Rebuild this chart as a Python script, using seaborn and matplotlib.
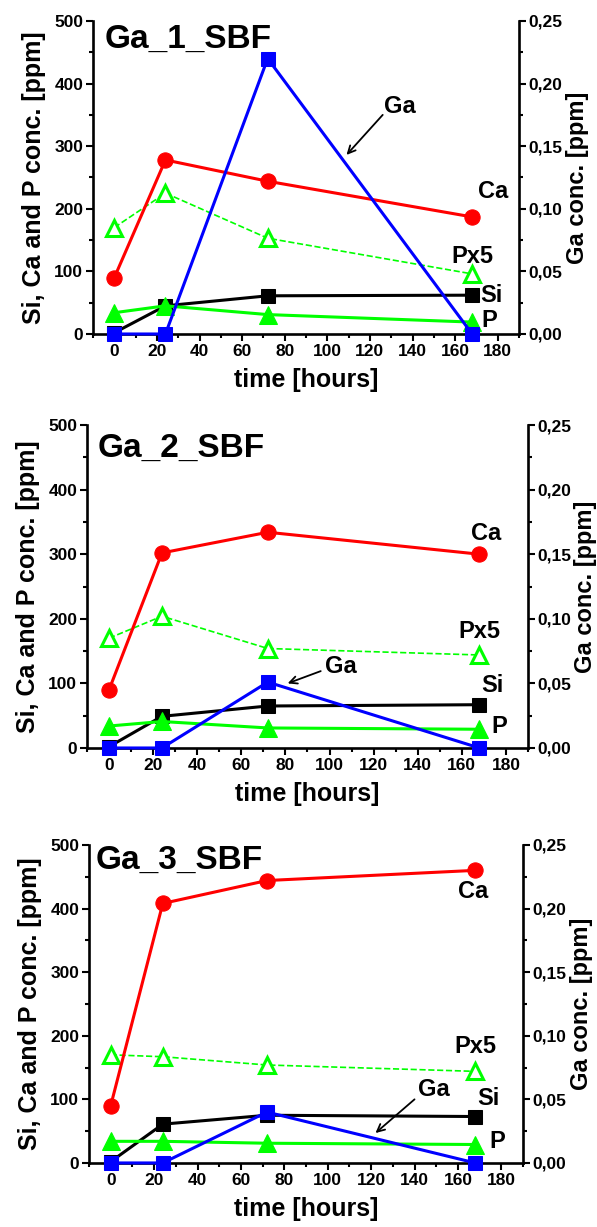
import matplotlib
matplotlib.use("Agg")
import matplotlib.pyplot as plt
from matplotlib.ticker import MultipleLocator, FuncFormatter
import seaborn as sns

# sampling times (hours)
hours = [0, 24, 72, 168]

# Ga_1_SBF
s1_ca = [90, 278, 244, 187]
s1_px5 = [170, 225, 153, 96]
s1_p = [34, 45, 31, 19]
s1_si = [2, 45, 61, 62]
s1_ga = [0.0, 0.0, 0.22, 0.0]

# Ga_2_SBF
s2_ca = [90, 302, 334, 300]
s2_px5 = [170, 204, 154, 144]
s2_p = [34, 41, 31, 29]
s2_si = [2, 49, 65, 67]
s2_ga = [0.0, 0.0, 0.051, 0.0]

# Ga_3_SBF
s3_ca = [90, 408, 444, 460]
s3_px5 = [170, 167, 154, 144]
s3_p = [34, 34, 31, 29]
s3_si = [2, 61, 75, 73]
s3_ga = [0.0, 0.0, 0.04, 0.0]

sample_names = ["Ga_1_SBF", "Ga_2_SBF", "Ga_3_SBF"]
x_ticks = [0, 20, 40, 60, 80, 100, 120, 140, 160, 180]
left_ticks = [0, 100, 200, 300, 400, 500]
right_ticks = [0.0, 0.05, 0.10, 0.15, 0.20, 0.25]

RED = "#ff0000"
GREEN = "#00ff00"
BLUE = "#0000ff"
BLACK = "#000000"

sns.set_theme(style="ticks")
plt.rcParams["font.family"] = ["Liberation Sans", "DejaVu Sans"]
plt.rcParams.update({
    "font.weight": "bold",
    "axes.labelweight": "bold",
    "axes.edgecolor": "black",
    "axes.labelcolor": "black",
    "text.color": "black",
    "xtick.color": "black",
    "ytick.color": "black",
    "axes.linewidth": 1.9,
})

# panel layout: axes boxes in figure fractions and label placements (data coords)
layout = [
    dict(box=(0.1558, 0.7278, 0.7136, 0.2551), title=(-4.4, 457),
         ca=(178, 227), px5=(168, 123), si=(177, 62), p=(176, 22),
         ga_text=(134, 363), ga_tail=(126, 350), ga_head=(109, 286)),
    dict(box=(0.1457, 0.3904, 0.7387, 0.2632), title=(-5.0, 451),
         ca=(171, 332), px5=(168, 180), si=(174, 97), p=(177, 33),
         ga_text=(105, 126), ga_tail=(96, 119), ga_head=(81, 100)),
    dict(box=(0.1491, 0.0522, 0.7270, 0.2592), title=(-6.8, 462),
         ca=(167, 427), px5=(168, 183), si=(174, 102), p=(178, 33),
         ga_text=(149, 116), ga_tail=(140, 100), ga_head=(122, 47)),
]

panels = [
    (s1_ca, s1_px5, s1_p, s1_si, s1_ga),
    (s2_ca, s2_px5, s2_p, s2_si, s2_ga),
    (s3_ca, s3_px5, s3_p, s3_si, s3_ga),
]

fig = plt.figure(figsize=(5.97, 12.27), dpi=100)

comma_fmt = FuncFormatter(lambda v, pos: f"{v:.2f}".replace(".", ","))

for name, (ca, px5, p, si, ga), lay in zip(sample_names, panels, layout):
    ax = fig.add_axes(lay["box"])
    ax2 = ax.twinx()

    sns.lineplot(x=hours, y=px5, ax=ax, color=GREEN, linewidth=1.2,
                 linestyle="--", marker="^", markersize=12,
                 markerfacecolor="white", markeredgecolor=GREEN,
                 markeredgewidth=2.2, clip_on=False)
    sns.lineplot(x=hours, y=si, ax=ax, color=BLACK, linewidth=2.2,
                 marker="s", markersize=10, markeredgecolor=BLACK,
                 markerfacecolor=BLACK, clip_on=False)
    sns.lineplot(x=hours, y=p, ax=ax, color=GREEN, linewidth=2.2,
                 marker="^", markersize=13, markeredgecolor=GREEN,
                 markerfacecolor=GREEN, clip_on=False)
    sns.lineplot(x=hours, y=ca, ax=ax, color=RED, linewidth=2.2,
                 marker="o", markersize=11, markeredgecolor=RED,
                 markerfacecolor=RED, clip_on=False)
    sns.lineplot(x=hours, y=ga, ax=ax2, color=BLUE, linewidth=2.2,
                 marker="s", markersize=10, markeredgecolor=BLUE,
                 markerfacecolor=BLUE, clip_on=False)

    ax.set_xlim(-10, 190)
    ax.set_ylim(0, 500)
    ax2.set_ylim(0, 0.25)

    ax.set_xticks(x_ticks)
    ax.xaxis.set_minor_locator(MultipleLocator(10))
    ax.set_yticks(left_ticks)
    ax.yaxis.set_minor_locator(MultipleLocator(50))
    ax2.set_yticks(right_ticks)
    ax2.yaxis.set_minor_locator(MultipleLocator(0.025))
    ax2.yaxis.set_major_formatter(comma_fmt)

    for a in (ax, ax2):
        a.spines["top"].set_visible(False)
        a.tick_params(which="major", direction="out", length=5, width=1.5,
                      labelsize=12.5, pad=2)
        a.tick_params(which="minor", direction="out", length=3.2, width=1.5)
    ax2.spines["left"].set_visible(False)
    ax2.spines["bottom"].set_visible(False)
    ax.spines["right"].set_visible(False)
    ax.tick_params(axis="y", which="both", right=False)

    ax.set_xlabel("time [hours]", fontsize=18, labelpad=7)
    ax.set_ylabel("Si, Ca and P conc. [ppm]", fontsize=18, labelpad=6)
    ax2.set_ylabel("Ga conc. [ppm]", fontsize=17, labelpad=2)

    ax.text(*lay["title"], name, fontsize=24, ha="left", va="baseline")
    ax.text(*lay["ca"], "Ca", fontsize=17, ha="center", va="center")
    ax.text(*lay["px5"], "Px5", fontsize=17, ha="center", va="center")
    ax.text(*lay["si"], "Si", fontsize=17, ha="center", va="center")
    ax.text(*lay["p"], "P", fontsize=17, ha="center", va="center")
    ax.text(*lay["ga_text"], "Ga", fontsize=17, ha="center", va="center")
    ax.annotate("", xy=lay["ga_head"], xytext=lay["ga_tail"],
                arrowprops=dict(arrowstyle="->,head_length=0.45,head_width=0.22",
                                color="black", lw=1.3, shrinkA=0, shrinkB=0))

fig.savefig("out.png", dpi=100)
